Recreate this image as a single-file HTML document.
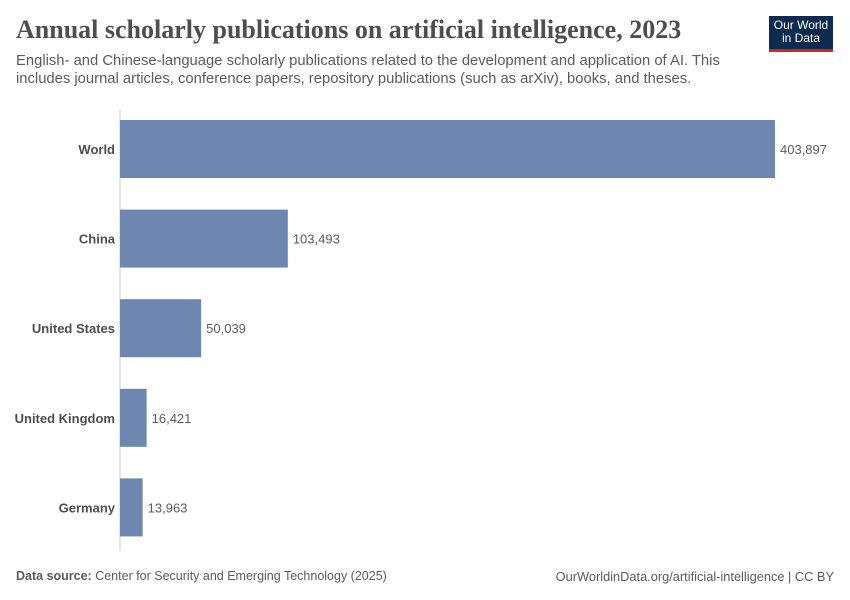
<!DOCTYPE html>
<html><head><meta charset="utf-8"><style>
body{margin:0;width:850px;height:600px;background:#fff;font-family:"Liberation Sans",sans-serif;position:relative;overflow:hidden}
.t{position:absolute;white-space:nowrap}
</style></head><body>
<div class="t" style="left:16px;top:15px;font-family:'Liberation Serif',serif;font-size:26px;font-weight:bold;color:#4e4e4e">Annual scholarly publications on artificial intelligence, 2023</div>
<div class="t" style="left:16px;top:52px;font-size:14.8px;line-height:18px;color:#5b5b5b">English- and Chinese-language scholarly publications related to the development and application of AI. This<br>includes journal articles, conference papers, repository publications (such as arXiv), books, and theses.</div>
<div style="position:absolute;left:769px;top:16px;width:64px;background:#0d2a50;border-bottom:3px solid #ce261e;color:#fff;font-size:12px;line-height:13px;text-align:center;padding-top:3px;height:30px">Our World<br>in Data</div>
<svg id="c" width="850" height="600" style="position:absolute;left:0;top:0"></svg>
<div class="t" style="left:16px;top:569px;font-size:12.5px;color:#5b5b5b"><b>Data source:</b> Center for Security and Emerging Technology (2025)</div>
<div class="t" style="right:16px;top:569px;font-size:12.8px;color:#5b5b5b">OurWorldinData.org/artificial-intelligence | CC BY</div>
<script>
const categories=["World","China","United States","United Kingdom","Germany"];
const values=[403897,103493,50039,16421,13963];
const svg=document.getElementById('c');
const NS='http://www.w3.org/2000/svg';
const x0=120,xScale=v=>x0+v*655/403897;
const yBand=i=>120+i*89.6,bh=58;
const ax=document.createElementNS(NS,'line');
ax.setAttribute('x1',x0);ax.setAttribute('x2',x0);ax.setAttribute('y1',110);ax.setAttribute('y2',551);
ax.setAttribute('stroke','#ccc');


svg.appendChild(ax);
categories.forEach((c,i)=>{
 const y=yBand(i);
 const r=document.createElementNS(NS,'rect');
 r.setAttribute('x',x0);r.setAttribute('y',y);r.setAttribute('width',xScale(values[i])-x0);r.setAttribute('height',bh);r.setAttribute('fill','#6d87b0');
 
 
 svg.appendChild(r);
 const l=document.createElementNS(NS,'text');
 l.setAttribute('x',115);l.setAttribute('y',y+bh/2+5);l.setAttribute('text-anchor','end');l.setAttribute('font-size','13');l.setAttribute('font-weight','bold');l.setAttribute('fill','#4e4e4e');l.textContent=c;
 
 
 svg.appendChild(l);
 const v=document.createElementNS(NS,'text');
 v.setAttribute('x',xScale(values[i])+5);v.setAttribute('y',y+bh/2+5);v.setAttribute('font-size','13');v.setAttribute('fill','#5b5b5b');v.textContent=values[i].toLocaleString('en-US');
 
 
 svg.appendChild(v);
});
</script>
</body></html>
